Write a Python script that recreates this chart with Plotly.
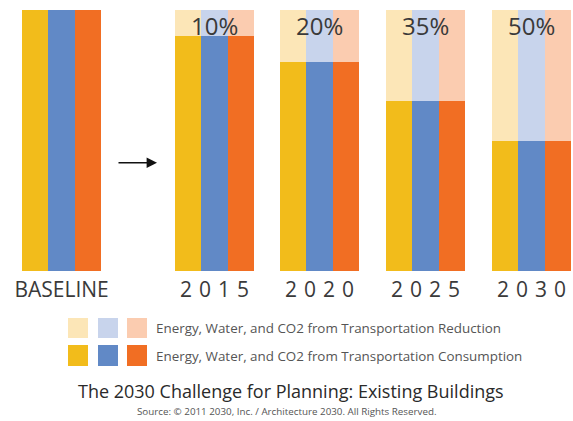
import plotly.graph_objects as go

# ---- data ----
groups = ["BASELINE", "2\u20040\u20041\u20045", "2\u20040\u20042\u20040",
          "2\u20040\u20042\u20045", "2\u20040\u20043\u20040"]
reduction_pct = [0, 10, 20, 35, 50]
consumption = [100 - r for r in reduction_pct]
resources = ["Energy", "Water", "CO2"]
consumption_colors = ["#F2BC1B", "#6189C6", "#F16E23"]
reduction_colors = ["#FCE6B7", "#C8D4EC", "#FBCCB0"]
legend_labels = [
    "Energy, Water, and CO2 from Transportation Reduction",
    "Energy, Water, and CO2 from Transportation Consumption",
]
title_text = "The 2030 Challenge for Planning: Existing Buildings"
source_text = "Source: © 2011 2030, Inc. / Architecture 2030. All Rights Reserved."

# ---- layout constants (pixel space) ----
W, H = 573, 421
GROUP_LEFT = [22, 175, 280, 386, 492]
BAR_W = 26.4
PLOT_TOP, PLOT_BOTTOM = 10, 271
FONT = "Open Sans"
TEXT_COLOR = "#3a3a3a"


def px_x(p):
    return p / W


def px_y(p):
    return 1 - p / H


fig = go.Figure()

for i, res in enumerate(resources):
    xs = [g + BAR_W * (i + 0.5) for g in GROUP_LEFT]
    fig.add_trace(go.Bar(
        x=xs, y=consumption, width=BAR_W, name=res + " consumption",
        marker=dict(color=consumption_colors[i], line=dict(width=0)),
        showlegend=False, hoverinfo="skip",
    ))
    fig.add_trace(go.Bar(
        x=xs, y=reduction_pct, width=BAR_W, name=res + " reduction",
        marker=dict(color=reduction_colors[i], line=dict(width=0)),
        showlegend=False, hoverinfo="skip",
    ))

centers = [g + BAR_W * 1.5 for g in GROUP_LEFT]

annotations = []
for c, r in zip(centers, reduction_pct):
    if r > 0:
        annotations.append(dict(
            x=c, y=100, xref="x", yref="y", text=f"{r}%", showarrow=False,
            yanchor="top", yshift=3,
            font=dict(family=FONT, size=24, color=TEXT_COLOR),
        ))

# arrow between baseline and 2015
annotations.append(dict(
    x=157, y=41.5, ax=117, ay=41.5, xref="x", yref="y", axref="x", ayref="y",
    text="", showarrow=True, arrowhead=2, arrowsize=1.3, arrowwidth=1.6,
    arrowcolor="#111111",
))

# legend rows
shapes = []
sq_x = [68, 98, 127]
rows = [(318, 338, reduction_colors), (345, 366, consumption_colors)]
for (y0, y1, cols), label in zip(rows, legend_labels):
    for x0, col in zip(sq_x, cols):
        shapes.append(dict(
            type="rect", xref="paper", yref="paper",
            x0=px_x(x0), x1=px_x(x0 + 20), y0=px_y(y1), y1=px_y(y0),
            fillcolor=col, line=dict(width=0),
        ))
    annotations.append(dict(
        x=px_x(154), y=px_y((y0 + y1) / 2), xref="paper", yref="paper",
        text=label, showarrow=False, xanchor="left", yanchor="middle",
        font=dict(family=FONT, size=13.4, color="#555555"),
    ))

annotations.append(dict(
    x=px_x(291), y=px_y(391), xref="paper", yref="paper", text=title_text,
    showarrow=False, xanchor="center", yanchor="middle",
    font=dict(family=FONT, size=18, color="#2a2a2a"),
))
annotations.append(dict(
    x=px_x(286), y=px_y(411), xref="paper", yref="paper", text=source_text,
    showarrow=False, xanchor="center", yanchor="middle",
    font=dict(family=FONT, size=9.8, color="#555555"),
))

fig.update_layout(
    width=W, height=H,
    margin=dict(l=0, r=0, t=0, b=0),
    paper_bgcolor="white", plot_bgcolor="white",
    barmode="stack", bargap=0,
    xaxis=dict(
        range=[0, W], domain=[0, 1], showgrid=False, zeroline=False,
        showline=False, ticks="", tickvals=centers, ticktext=groups,
        tickfont=dict(family=FONT, size=21, color=TEXT_COLOR),
        ticklabelstandoff=4, fixedrange=True,
    ),
    yaxis=dict(
        range=[0, 100], domain=[px_y(PLOT_BOTTOM), px_y(PLOT_TOP)],
        visible=False, fixedrange=True,
    ),
    shapes=shapes, annotations=annotations, showlegend=False,
)

fig.write_html(
    "out.html",
    config={"displayModeBar": False},
    post_script="document.body.style.margin='0';document.body.style.overflow='hidden';",
)
